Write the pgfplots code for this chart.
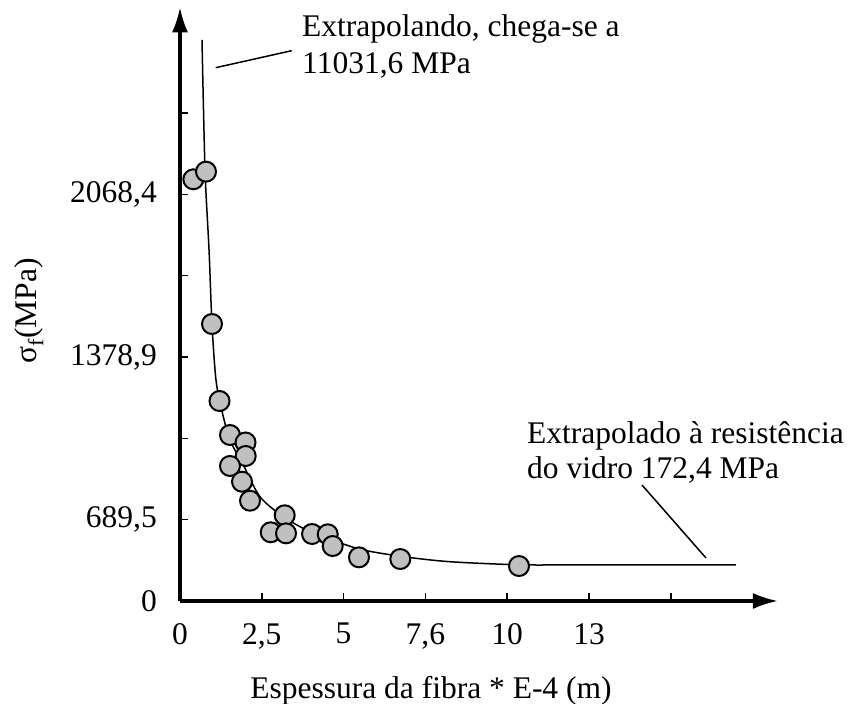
\documentclass[border=0pt]{standalone}
\usepackage{pgfplots}
\pgfplotsset{compat=1.18}
\usepackage{fontspec}
\setmainfont{Liberation Serif}
\usetikzlibrary{arrows.meta}
\definecolor{markgray}{RGB}{192,192,192}
\newcommand\fs{\fontsize{31.5bp}{36bp}\selectfont}
\begin{document}
\begin{tikzpicture}[font=\fs]
\path[use as bounding box] (0,0) rectangle (850bp,704bp);
\begin{axis}[
  at={(180bp,103bp)}, anchor=south west,
  x=81.8bp, y=81.33bp,
  xmin=0, xmax=7.31, ymin=0, ymax=7.30,
  axis x line=bottom, axis y line=left,
  axis line style={line width=3bp, black},
  x axis line style={-{Latex[length=25bp,width=16bp]}},
  y axis line style={-{Latex[length=25bp,width=16bp]}},
  xtick={0,1,2,3,4,5,6},
  xticklabels={0,{2,5},5,{7,6},10,13,{}},
  ytick={0,1,2,3,4,5,6},
  yticklabels={0,{689,5},{},{1378,9},{},{2068,4},{}},
  tick align=inside,
  major tick length=8bp,
  tick style={line width=1.5bp, black},
  xticklabel style={font=\fs, anchor=north, inner sep=0pt, yshift=-22bp},
  yticklabel style={font=\fs, anchor=east, inner sep=0pt, xshift=-23bp},
  /pgf/number format/assume math mode=true,
  every axis x label/.style={at={(axis description cs:0.4197,-0.1634)}, anchor=base, font=\fs},
  every axis y label/.style={at={(axis description cs:-0.2525,0.4885)}, rotate=90, anchor=center, font=\fs},
  xlabel={Espessura da fibra * E-4 (m)},
  ylabel={σ\textsubscript{f}(MPa)},
  clip=false,
]
\addplot[smooth, tension=0.5, line width=1.5bp, black, no marks] coordinates {
(0.269,6.898) (0.306,5.299) (0.355,4.316) (0.391,3.406) (0.440,2.717)
(0.510,2.348) (0.611,1.980) (0.774,1.672) (0.978,1.282) (1.263,1.037)
(1.549,0.873) (1.916,0.729) (2.241,0.627) (2.730,0.545) (3.301,0.483)
(4.116,0.446) (4.768,0.443) (6.797,0.443)
};
\addplot[only marks, mark=*, mark size=10bp, mark options={fill=markgray, draw=black, line width=2bp}] coordinates {
(0.163,5.185) (0.318,5.279) (0.391,3.406) (0.483,2.459) (0.611,2.041)
(0.801,1.949) (0.803,1.783) (0.611,1.660) (0.758,1.467) (0.856,1.233)
(1.280,1.054) (1.109,0.845) (1.296,0.832) (1.614,0.824) (1.806,0.820)
(1.867,0.676) (2.188,0.537) (2.693,0.516) (4.144,0.430)
};
\end{axis}
\node[anchor=base west, inner sep=0pt] at (302bp,667.3bp) {Extrapolando, chega-se a};
\node[anchor=base west, inner sep=0pt] at (302bp,630.7bp) {11031,6 MPa};
\node[anchor=base west, inner sep=0pt] at (527bp,260.7bp) {Extrapolado à resistência};
\node[anchor=base west, inner sep=0pt] at (527bp,225.7bp) {do vidro 172,4 MPa};
\draw[line width=1.5bp] (215.7bp,636.3bp) -- (291.7bp,653.3bp);
\draw[line width=1.5bp] (642bp,219bp) -- (706bp,146bp);
\end{tikzpicture}
\end{document}
